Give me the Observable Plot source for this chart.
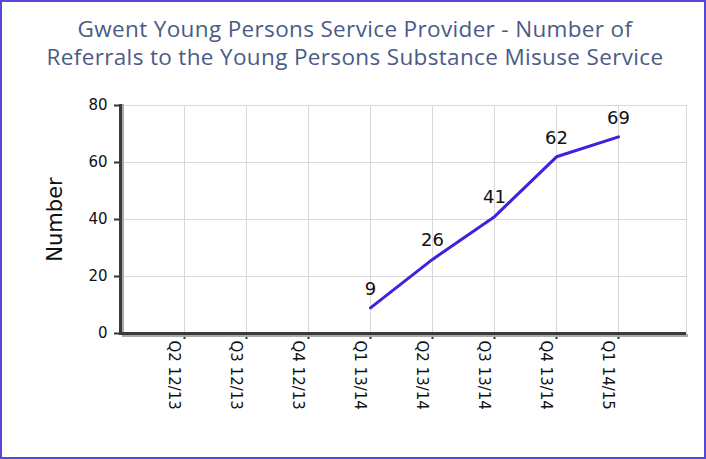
<!DOCTYPE html>
<html><head><meta charset="utf-8">
<script src="https://cdn.jsdelivr.net/npm/d3@7"></script>
<script src="https://cdn.jsdelivr.net/npm/@observablehq/plot@0.6"></script>
<style>
html,body{margin:0;padding:0;background:#fff;}
#wrap{position:relative;width:706px;height:459px;overflow:hidden;background:#fff;}
#title{position:absolute;left:0;top:0;width:706px;height:90px;text-align:center;font-family:"Open Sans",sans-serif;font-size:22.5px;line-height:28px;color:#4B5B86;padding-top:15px;padding-left:4px;box-sizing:border-box;letter-spacing:0.35px;white-space:nowrap;}
#chart{position:absolute;left:0;top:90px;}
#border{position:absolute;left:0;top:0;width:706px;height:459px;box-sizing:border-box;border:2px solid #5548D9;pointer-events:none;}
</style></head>
<body>
<div id="wrap">
<div id="title">Gwent Young Persons Service Provider - Number of<br>Referrals to the Young Persons Substance Misuse Service</div>
<div id="chart"></div>
<div id="border"></div>
</div>
<script>
const quarters = ["Q2 12/13","Q3 12/13","Q4 12/13","Q1 13/14","Q2 13/14","Q3 13/14","Q4 13/14","Q1 14/15"];
const referrals = [null,null,null,9,26,41,62,69];
const yTicks = [0,20,40,60,80];

const data = quarters.map((q,i)=>({q, v: referrals[i]}));
const defined = data.filter(d => d.v != null);

const plot = Plot.plot({
  width: 706,
  height: 369,
  marginTop: 15,
  marginBottom: 126,
  marginLeft: 120,
  marginRight: 20,
  style: {fontFamily: "DejaVu Sans, sans-serif", color: "#111", background: "transparent"},
  x: {type: "point", domain: quarters, range: [181, 620], padding: 0, label: null},
  y: {domain: [0,80], label: null},
  marks: [
    Plot.gridX(quarters, {stroke: "#d8d8d8", strokeOpacity: 1, strokeWidth: 1}),
    Plot.gridY(yTicks, {stroke: "#d8d8d8", strokeOpacity: 1, strokeWidth: 1}),
    Plot.frame({stroke: "#d8d8d8"}),
    Plot.axisX({ticks: quarters, tickSize: 6, text: null, stroke: "#333", strokeWidth: 2, label: null}),
    Plot.axisX({ticks: quarters, tickSize: 0, tickRotate: 90, tickPadding: 7, fontSize: 15, label: null, dx: -11}),
    Plot.axisY({ticks: yTicks, tickSize: 6, tickPadding: 7, fontSize: 15, stroke: "#333", strokeWidth: 2, label: null}),
    Plot.axisY({ticks: [], tickSize: 0, label: "Number", labelAnchor: "center", labelArrow: "none", labelOffset: 73, fontSize: 21}),
    Plot.ruleY([0], {stroke: "#aaa", strokeWidth: 3, dy: 2, dx: 2}),
    Plot.frame({anchor: "left", stroke: "#aaa", strokeWidth: 3, dx: 2}),
    Plot.ruleY([0], {stroke: "#3a3a3a", strokeWidth: 3}),
    Plot.frame({anchor: "left", stroke: "#3a3a3a", strokeWidth: 3}),
    Plot.lineY(data, {x: "q", y: "v", stroke: "#3B22DE", strokeWidth: 3}),
    Plot.text(defined, {x: "q", y: "v", text: d => String(d.v), dy: -19, fontSize: 18, fill: "#111"})
  ]
});
document.getElementById("chart").appendChild(plot);
</script>
</body></html>
